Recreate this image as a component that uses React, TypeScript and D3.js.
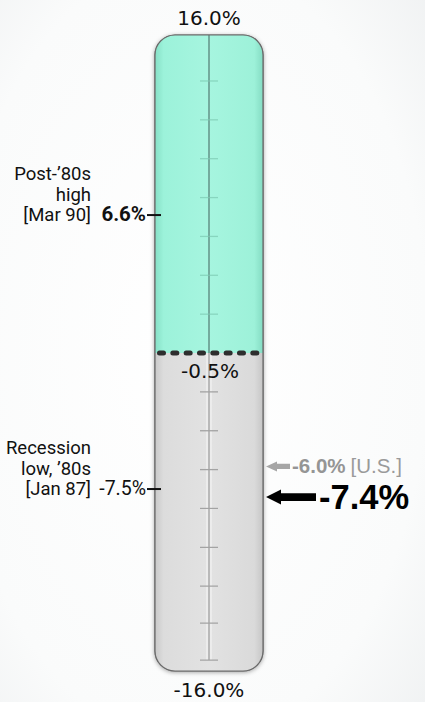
import React from "react";
import * as d3 from "d3";

// ---- data ----
const scaleTop = 16.0;
const scaleBottom = -16.0;
const currentLevel = -0.5;
const gaugeTicks = [13.5, 11.5, 9.5, 7.5, 5.5, 3.5, 1.5, -2.5, -4.5, -6.5, -8.5, -10.5, -12.5, -14.4, -16.3];
const markerLabels = [
  { value: 6.6, lines: ["Post-\u201980s", "high", "[Mar 90]"], valueText: "6.6%", bold: true },
  { value: -7.5, lines: ["Recession", "low, \u201980s", "[Jan 87]"], valueText: "-7.5%", bold: false },
];
const arrowMarks = [
  { value: -6.0, label: "-6.0%", note: "[U.S.]", color: "#959595", big: false },
  { value: -7.4, label: "-7.4%", note: "", color: "#000000", big: true },
];

const W = 425;
const H = 702;

export default function App() {
  const y = d3.scaleLinear().domain([scaleTop, scaleBottom]).range([32.4, 654.2]);
  const tubeL = 155;
  const tubeR = 263;
  const tubeTop = 35;
  const tubeBottom = 671;
  const cx = 209;
  const levelY = y(currentLevel);

  const arrowPath = (tip: number, end: number, yc: number, headLen: number, headH: number, shaftH: number) => {
    const p = d3.path();
    p.moveTo(tip, yc);
    p.lineTo(tip + headLen, yc - headH);
    p.lineTo(tip + headLen, yc - shaftH);
    p.lineTo(end, yc - shaftH);
    p.lineTo(end, yc + shaftH);
    p.lineTo(tip + headLen, yc + shaftH);
    p.lineTo(tip + headLen, yc + headH);
    p.closePath();
    return p.toString();
  };

  return (
    <svg width={W} height={H} style={{ position: "absolute", left: 0, top: 0 }}>
      <defs>
        <radialGradient id="bg" cx="0.45" cy="0.5" r="0.8">
          <stop offset="0" stopColor="#ffffff" />
          <stop offset="0.7" stopColor="#fafbfb" />
          <stop offset="1" stopColor="#eef0f1" />
        </radialGradient>
        <linearGradient id="green" x1="0" x2="1" y1="0" y2="0">
          <stop offset="0" stopColor="#86e0c6" />
          <stop offset="0.08" stopColor="#9cf2da" />
          <stop offset="0.5" stopColor="#a6f5df" />
          <stop offset="0.92" stopColor="#9df1d9" />
          <stop offset="1" stopColor="#84dcc3" />
        </linearGradient>
        <linearGradient id="gray" x1="0" x2="1" y1="0" y2="0">
          <stop offset="0" stopColor="#c9c9c9" />
          <stop offset="0.08" stopColor="#dcdcdc" />
          <stop offset="0.5" stopColor="#e2e2e2" />
          <stop offset="0.92" stopColor="#dadada" />
          <stop offset="1" stopColor="#c6c6c6" />
        </linearGradient>
        <clipPath id="tubeClip">
          <rect x={tubeL} y={tubeTop} width={tubeR - tubeL} height={tubeBottom - tubeTop} rx={20} ry={20} />
        </clipPath>
        <filter id="shadow" x="-20%" y="-5%" width="140%" height="110%">
          <feDropShadow dx="0" dy="1" stdDeviation="2" floodColor="#000" floodOpacity="0.35" />
        </filter>
      </defs>
      <rect x={0} y={0} width={W} height={H} fill="url(#bg)" />

      {/* tube */}
      <rect x={tubeL} y={tubeTop} width={tubeR - tubeL} height={tubeBottom - tubeTop} rx={20} ry={20}
        fill="#ddd" stroke="#6a6a6a" strokeWidth={1.2} filter="url(#shadow)" />
      <g clipPath="url(#tubeClip)">
        <rect x={tubeL} y={tubeTop} width={tubeR - tubeL} height={levelY - tubeTop} fill="url(#green)" />
        <rect x={tubeL} y={levelY} width={tubeR - tubeL} height={tubeBottom - levelY} fill="url(#gray)" />
        {/* center line */}
        <line x1={cx} x2={cx} y1={tubeTop} y2={levelY} stroke="#5f8c82" strokeWidth={1.4} />
        <line x1={cx - 2} x2={cx - 2} y1={levelY} y2={y(-16.3)} stroke="#f4f4f4" strokeWidth={1.2} />
        <line x1={cx + 2} x2={cx + 2} y1={levelY} y2={y(-16.3)} stroke="#f4f4f4" strokeWidth={1.2} />
        <line x1={cx} x2={cx} y1={levelY} y2={y(-16.3)} stroke="#a8a8a8" strokeWidth={1.4} />
        {gaugeTicks.map((t, i) => (
          <line key={i} x1={cx - 9} x2={cx + 9} y1={y(t)} y2={y(t)}
            stroke={t > currentLevel ? "#7cc9b2" : "#a3a3a3"} strokeWidth={1.3}
            opacity={t > currentLevel ? 0.7 : 1} />
        ))}
        {/* level dashed line */}
        <line x1={tubeL + 4.5} x2={tubeR} y1={levelY} y2={levelY}
          stroke="#2e2e2e" strokeWidth={5} strokeDasharray="4 9.33" strokeLinecap="round" />
      </g>
      <rect x={tubeL} y={tubeTop} width={tubeR - tubeL} height={tubeBottom - tubeTop} rx={20} ry={20}
        fill="none" stroke="#6a6a6a" strokeWidth={1.2} />

      {/* scale end labels */}
      <g fontFamily="DejaVu Sans" fontSize={20} fill="#111" textAnchor="middle">
        <text x={cx} y={y(scaleTop) - 7}>{scaleTop.toFixed(1)}%</text>
        <text x={cx} y={y(scaleBottom) + 43}>{scaleBottom.toFixed(1)}%</text>
        <text x={cx + 1} y={levelY + 25}>{currentLevel.toFixed(1)}%</text>
      </g>

      {/* left markers */}
      {markerLabels.map((m, i) => {
        const ty = y(m.value);
        return (
          <g key={i} fontFamily="Roboto" fill="#111">
            {m.lines.map((ln, j) => (
              <text key={j} x={91} y={ty + 6 - (m.lines.length - 1 - j) * 20.5} fontSize={18.5} textAnchor="end">{ln}</text>
            ))}
            <text x={146} y={ty + 6} fontSize={m.bold ? 20.5 : 19.5} fontWeight={m.bold ? 700 : 400} textAnchor="end">{m.valueText}</text>
            <line x1={147} x2={161} y1={ty} y2={ty} stroke="#111" strokeWidth={2} />
          </g>
        );
      })}

      {/* right arrows */}
      {arrowMarks.map((a, i) => {
        const yc = y(a.value) + (a.big ? 10 : 6.5);
        return a.big ? (
          <g key={i}>
            <path d={arrowPath(266, 316, yc, 15, 7.5, 3.8)} fill={a.color} />
            <text x={319} y={yc + 12} fontFamily="Liberation Sans" fontWeight={700} fontSize={34.5} fill={a.color}>{a.label}</text>
          </g>
        ) : (
          <g key={i}>
            <path d={arrowPath(266, 290, yc, 11, 5, 2.6)} fill="#a6a6a6" />
            <text x={292} y={yc + 7} fontFamily="Liberation Sans" fontSize={20.5} fill={a.color}>
              <tspan fontWeight={700}>{a.label}</tspan>
              <tspan dx={5} fill="#9a9a9a">{a.note}</tspan>
            </text>
          </g>
        );
      })}
    </svg>
  );
}
